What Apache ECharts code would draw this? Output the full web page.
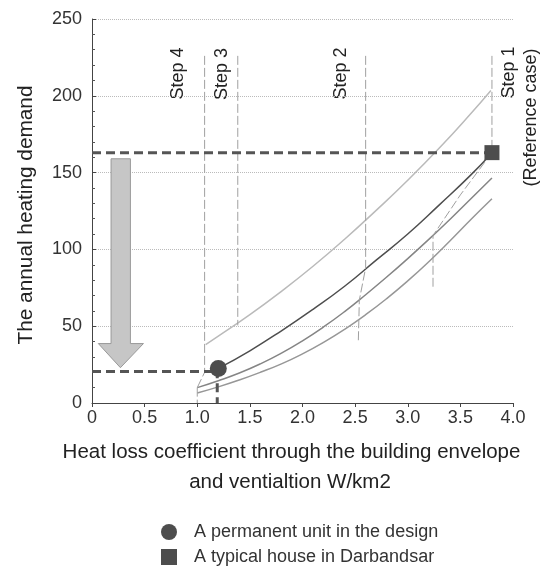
<!DOCTYPE html>
<html><head><meta charset="utf-8">
<script src="https://cdn.jsdelivr.net/npm/echarts@6/dist/echarts.min.js"></script>
<style>html,body{margin:0;padding:0;background:#fff}#c{width:542px;height:567px}</style>
</head><body><div id="c"></div>
<script>
const xTickLabels = ['0','0.5','1.0','1.5','2.0','2.5','3.0','3.5','4.0'];
const yTickLabels = ['0','50','100','150','200','250'];
const curveLight = [[1.08,38],[1.2,43.5],[1.5,57.5],[1.8,72.7],[2.1,89],[2.4,106.6],[2.7,125.4],[3.0,145],[3.3,166],[3.6,188.5],[3.79,203.5]];
const curveDark = [[1.2,22.5],[1.5,34],[1.8,47],[2.1,61],[2.4,76],[2.7,93],[3.0,110],[3.3,129],[3.6,148.5],[3.8,163]];
const curveMedium = [[1.0,10],[1.2,14.5],[1.4,19.5],[1.6,25.5],[1.8,32.5],[2.0,40.5],[2.2,49.5],[2.4,59.5],[2.6,70.5],[2.8,82],[3.0,94],[3.2,106.5],[3.4,119.5],[3.6,133],[3.8,146.5]];
const curveLower = [[1.0,6.5],[1.2,10.5],[1.4,15],[1.6,20],[1.8,25.5],[2.0,32],[2.2,39.5],[2.4,48],[2.6,57.5],[2.8,68],[3.0,79.5],[3.2,92],[3.4,105.5],[3.6,119.5],[3.8,133]];
const step4Line = [[1.07,226],[1.07,20],[1.0,10]];
const step4Foot = [[1.0,10],[1.0,0]];
const step3Line = [[1.385,226],[1.385,50.5]];
const step2Line = [[2.6,226],[2.6,88],[2.54,67],[2.53,39]];
const step1Line = [[3.8,226],[3.8,163]];
const step1Branch = [[3.8,163],[3.5,135.5],[3.24,109],[3.24,75.7]];
const refLevel = [[0,163],[3.8,163]];
const designLevel = [[0,20.5],[1.2,20.5]];
const designDrop = [[1.19,22],[1.19,0]];
const arrowShaftX = [0.181, 0.365];
const arrowHeadX = [0.06, 0.489];
const arrowTipX = [0.27];
const arrowY = [159, 38.7, 23];   // top of shaft, base of head, tip
const designPoint = [[1.2,22.5]];
const referencePoint = [[3.8,163]];
const stepLabels = ['Step 4','Step 3','Step 2','Step 1','(Reference case)'];
const axisTitles = ['Heat loss coefficient through the building envelope','and ventialtion W/km2','The annual heating demand'];
const legendNames = ['A permanent unit in the design','A typical house in Darbandsar'];

const FONT = '"Liberation Sans", Arial, sans-serif';
const chart = echarts.init(document.getElementById('c'), null, {renderer:'canvas'});

function line(data, color, width, type, z) {
  return {type:'line', data, showSymbol:false, symbol:'none', silent:true, smooth:false,
    lineStyle:{color, width, type}, z: z||2, animation:false};
}
function curve(data, color, width) {
  const s = line(data, color, width, 'solid', 2); s.smooth = 0.5; return s;
}
const thinDash = [9,3];
const thickDash = [9,5];

const labelPos = [[178.3,73.5],[221.7,74],[341,73.5],[509.3,72.5],[531,117.5]];
const titlePos = [[291.5,452],[290,482],[26,215]];

function legendBox(name, icon, top) {
  return {show:true, orient:'horizontal', left:156, top, itemWidth:16, itemHeight:16,
    selectedMode:false,
    textStyle:{fontFamily:FONT, fontSize:18, color:'#333', padding:[0,0,0,12]},
    data:[{name, icon}]};
}
function txt(t, pos, size, rot) {
  return {type:'text', x:pos[0], y:pos[1], rotation:rot||0, silent:true,
    style:{text:t, fontFamily:FONT, fontSize:size, fill:'#222', align:'center', verticalAlign:'middle'}};
}

const option = {
  backgroundColor:'#fff',
  animation:false,
  grid:{left:92, right:29, top:19, bottom:164, outerBoundsMode:'none', containLabel:false},
  xAxis:{type:'value', min:0, max:4, interval:0.5,
    axisLine:{show:true, onZero:false, lineStyle:{color:'#444', width:1}},
    axisTick:{show:true, length:4, lineStyle:{color:'#444'}},
    axisLabel:{fontFamily:FONT, fontSize:18, color:'#333', margin:6,
      formatter:v=>xTickLabels[Math.round(v/0.5)]},
    splitLine:{show:false}
  },
  yAxis:{type:'value', min:0, max:250, interval:50,
    axisLine:{show:true, onZero:false, lineStyle:{color:'#444', width:1}},
    axisTick:{show:true, inside:true, length:4, lineStyle:{color:'#444'}},
    minorTick:{show:true, splitNumber:5, length:3, lineStyle:{color:'#555'}},
    axisLabel:{fontFamily:FONT, fontSize:18, color:'#333', margin:10,
      formatter:v=>yTickLabels[Math.round(v/50)]},
    splitLine:{show:true, lineStyle:{color:'#bbb', type:'dotted', width:1}}
  },
  legend:[legendBox(legendNames[0],'circle',518), legendBox(legendNames[1],'rect',543)],
  graphic: stepLabels.map((t,i)=>txt(t, labelPos[i], 18, Math.PI/2)).concat([
    txt(axisTitles[0], titlePos[0], 20.5),
    txt(axisTitles[1], titlePos[1], 20.5),
    txt(axisTitles[2], titlePos[2], 20.8, Math.PI/2)
  ]),
  series:[
    curve(curveLight, '#bababa', 1.5),
    curve(curveLower, '#979797', 1.5),
    curve(curveMedium, '#858585', 1.5),
    curve(curveDark, '#4e4e4e', 1.5),
    line(step4Line, '#a0a0a0', 1, thinDash, 3),
    line(step4Foot, '#a0a0a0', 1, thinDash, 3),
    line(step3Line, '#a0a0a0', 1, thinDash, 3),
    line(step2Line, '#a0a0a0', 1, thinDash, 3),
    line(step1Line, '#a0a0a0', 1, thinDash, 3),
    line(step1Branch, '#a0a0a0', 1, thinDash, 3),
    line(refLevel, '#555555', 3, thickDash, 4),
    line(designLevel, '#555555', 3, thickDash, 4),
    line(designDrop, '#555555', 3, thickDash, 4),
    {type:'custom', silent:true, z:5, data:[[arrowTipX[0], arrowY[2]]],
      renderItem:(params, api)=>{
        const pts = [[arrowShaftX[0],arrowY[0]],[arrowShaftX[1],arrowY[0]],[arrowShaftX[1],arrowY[1]],
          [arrowHeadX[1],arrowY[1]],[arrowTipX[0],arrowY[2]],[arrowHeadX[0],arrowY[1]],[arrowShaftX[0],arrowY[1]]]
          .map(p=>api.coord(p));
        return {type:'polygon', shape:{points:pts}, style:{fill:'#c6c6c6', stroke:'#9a9a9a', lineWidth:1}};
      }},
    {type:'scatter', name:legendNames[0], data:designPoint, symbol:'circle', symbolSize:17,
      itemStyle:{color:'#4d4d4d', opacity:1}, z:10, silent:true},
    {type:'scatter', name:legendNames[1], data:referencePoint, symbol:'rect', symbolSize:15,
      itemStyle:{color:'#4d4d4d', opacity:1}, z:10, silent:true}
  ]
};
chart.setOption(option);
</script>
</body></html>
